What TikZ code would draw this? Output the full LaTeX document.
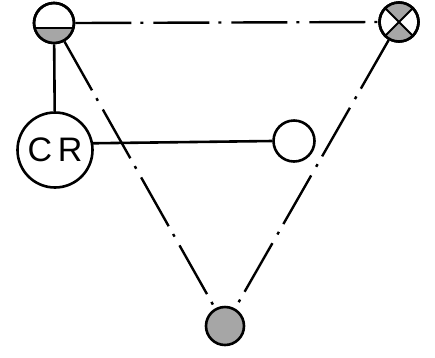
\documentclass[tikz,border=0pt]{standalone}
\usepackage{fontspec}
\setmainfont{Liberation Sans}
\begin{document}
\begin{tikzpicture}[x=1pt,y=-1pt,line width=2.6pt,
  ring/.style={circle,draw=black,minimum size=40pt,inner sep=0pt,line width=2.6pt},
  dd/.style={line width=2.4pt,dash pattern=on 56pt off 9pt on 3pt off 10pt}]
\useasboundingbox (0,0) rectangle (435,357);
% nodes
\node[ring] (tl) at (54,23) {};
\node[ring,minimum size=39pt] (tr) at (399,22) {};
\node[ring,minimum size=75pt,font=\fontsize{34}{34}\selectfont] (cr) at (55,150) {C\,R};
\node[ring,minimum size=41pt] (rc) at (294,141) {};
\node[ring,minimum size=38pt,fill=gray!70] (bt) at (225,326) {};
% shading of top-left circle (lower part)
\begin{scope}
  \clip (54,23) circle (19pt);
  \fill[gray!70] (30,28) rectangle (80,50);
  \draw[line width=1.8pt] (30,28) -- (78,28);
\end{scope}
\node[ring] at (54,23) {};
% shading of top-right circle (cross with top and bottom quarters filled)
\begin{scope}
  \clip (399,22) circle (18.5pt);
  \fill[gray!70] (399,22) -- (380,3) -- (418,3) -- cycle;
  \fill[gray!70] (399,22) -- (380,41) -- (418,41) -- cycle;
\end{scope}
\draw[line width=2pt] (tr.45) -- (tr.225) (tr.135) -- (tr.315);
\node[ring,minimum size=39pt] at (399,22) {};
% connectors
\draw (tl) -- (cr);
\draw (cr.10) -- (rc.west);
\draw[dd] (tl.east) -- (tr.west);
\draw[dd] (tl) -- (bt);
\draw[dd] (tr) -- (bt);
\end{tikzpicture}
\end{document}
